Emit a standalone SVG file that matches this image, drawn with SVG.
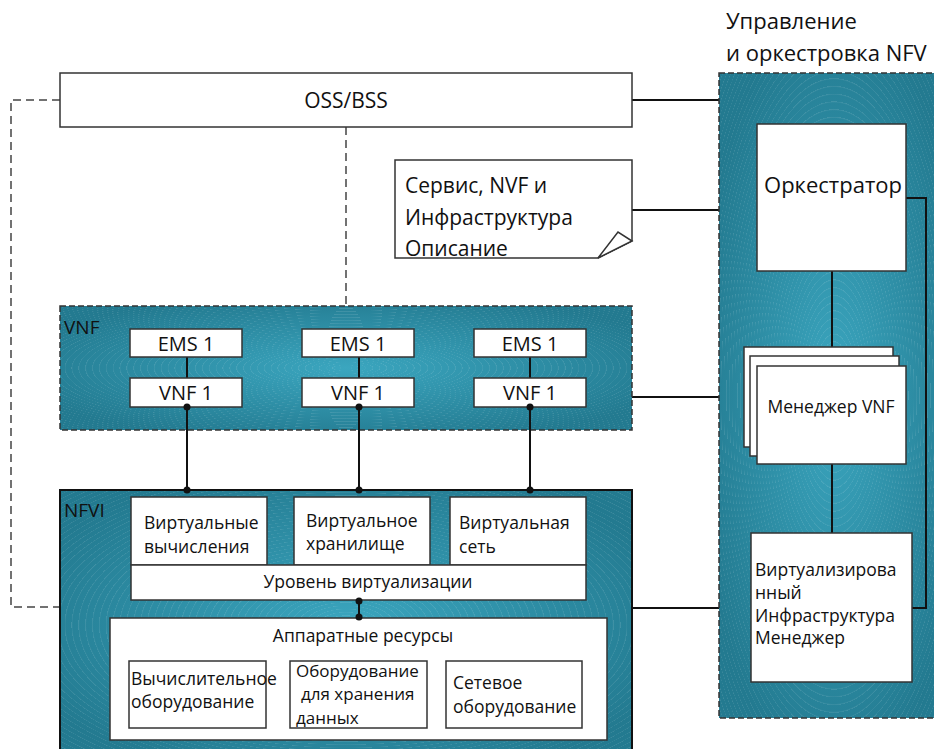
<svg xmlns="http://www.w3.org/2000/svg" width="934" height="749" viewBox="0 0 934 749">
<defs>
<radialGradient id="teal" cx="0.5" cy="0.5" r="0.6">
<stop offset="0" stop-color="#3ba6bf"/>
<stop offset="1" stop-color="#237a90"/>
</radialGradient>
<radialGradient id="rings" cx="0.5" cy="0.5" r="0.012" spreadMethod="repeat">
<stop offset="0" stop-color="#ffffff" stop-opacity="0"/>
<stop offset="0.8" stop-color="#ffffff" stop-opacity="0"/>
<stop offset="1" stop-color="#ffffff" stop-opacity="0.12"/>
</radialGradient>
<style>
.t{font-family:"Open Sans","Noto Sans","DejaVu Sans",sans-serif;fill:#111}
.box{fill:#fff;stroke:#333;stroke-width:1.5}
.ln{stroke:#111;stroke-width:2;fill:none}
.dash{stroke:#444;stroke-width:1.5;stroke-dasharray:8 5;fill:none}
.dot{fill:#111}
</style>
</defs>

<g id="connectors">
<path class="dash" d="M60,100 H11 V607 H60"/>
<path class="dash" d="M346,127 V306" stroke="#222"/>
<path class="ln" d="M632,100 H719"/>
<path class="ln" d="M632,210 H719"/>
<path class="ln" d="M632,397 H744"/>
<path class="ln" d="M632,608 H751"/>
</g>

<g id="mano">
<text class="t" x="726" y="29" font-size="22">Управление</text>
<text class="t" x="726" y="61" font-size="22">и оркестровка NFV</text>
<rect x="719" y="73" width="230" height="645" fill="url(#teal)"/>
<rect x="719" y="73" width="230" height="645" fill="url(#rings)"/>
<rect x="719" y="73" width="230" height="645" fill="none" stroke="#333" stroke-width="1.5" stroke-dasharray="6 3"/>
<path class="ln" d="M832,271 V366"/>
<path class="ln" d="M906,198 H926 V608 H911"/>
<path class="ln" d="M832,464 V533"/>
</g>

<g id="oss">
<rect class="box" x="60" y="73" width="572" height="54"/>
<text class="t" x="346" y="108" font-size="21" text-anchor="middle">OSS/BSS</text>
</g>

<g id="descriptor">
<path class="box" d="M395,160 H632 V241 L598,258 H395 Z"/>
<path d="M598,258 L618,232 L632,241 Z" fill="#fff" stroke="#333" stroke-width="1.5"/>
<text class="t" x="405" y="193" font-size="21">Сервис, NVF и</text>
<text class="t" x="405" y="225" font-size="21">Инфраструктура</text>
<text class="t" x="405" y="256" font-size="21">Описание</text>
</g>

<g id="orchestrator">
<rect class="box" x="757" y="124" width="149" height="147"/>
<text class="t" x="833" y="193" font-size="22" text-anchor="middle">Оркестратор</text>
</g>

<g id="vnfm">
<rect class="box" x="744" y="347" width="149" height="100"/>
<rect class="box" x="750" y="356" width="149" height="100"/>
<rect class="box" x="757" y="366" width="149" height="98"/>
<text class="t" x="831" y="413" font-size="17.5" text-anchor="middle">Менеджер VNF</text>
</g>

<g id="vim">
<rect class="box" x="751" y="533" width="161" height="149"/>
<text class="t" x="755" y="576" font-size="17.5">Виртуализирова</text>
<text class="t" x="755" y="599" font-size="17.5">нный</text>
<text class="t" x="755" y="622" font-size="17.5">Инфраструктура</text>
<text class="t" x="755" y="644" font-size="17.5">Менеджер</text>
</g>

<g id="vnf">
<rect x="60" y="306" width="572" height="124" fill="url(#teal)"/>
<rect x="60" y="306" width="572" height="124" fill="url(#rings)"/>
<rect x="60" y="306" width="572" height="124" fill="none" stroke="#333" stroke-width="1.5" stroke-dasharray="6 3"/>
<text class="t" x="64" y="334" font-size="19">VNF</text>
<path class="ln" d="M187,357 V378 M359,357 V378 M530,357 V378" stroke-width="1.5"/>
<rect class="box" x="130" y="329" width="112" height="28"/>
<rect class="box" x="302" y="329" width="112" height="28"/>
<rect class="box" x="474" y="329" width="112" height="28"/>
<rect class="box" x="130" y="378" width="112" height="29"/>
<rect class="box" x="302" y="378" width="112" height="29"/>
<rect class="box" x="474" y="378" width="112" height="29"/>
<text class="t" x="186" y="351" font-size="20" text-anchor="middle">EMS 1</text>
<text class="t" x="358" y="351" font-size="20" text-anchor="middle">EMS 1</text>
<text class="t" x="530" y="351" font-size="20" text-anchor="middle">EMS 1</text>
<text class="t" x="186" y="400" font-size="20" text-anchor="middle">VNF 1</text>
<text class="t" x="358" y="400" font-size="20" text-anchor="middle">VNF 1</text>
<text class="t" x="530" y="400" font-size="20" text-anchor="middle">VNF 1</text>
</g>

<g id="nfvi">
<rect x="60" y="490" width="572" height="270" fill="url(#teal)"/>
<rect x="60" y="490" width="572" height="270" fill="url(#rings)"/>
<rect x="60" y="490" width="572" height="270" fill="none" stroke="#111" stroke-width="2"/>
<text class="t" x="64" y="517" font-size="19">NFVI</text>
<rect class="box" x="131" y="497" width="136" height="68"/>
<rect class="box" x="294" y="497" width="136" height="68"/>
<rect class="box" x="450" y="497" width="136" height="68"/>
<text class="t" x="144" y="529" font-size="17.5">Виртуальные</text>
<text class="t" x="144" y="553" font-size="17.5">вычисления</text>
<text class="t" x="306" y="527" font-size="17.5">Виртуальное</text>
<text class="t" x="306" y="550" font-size="17.5">хранилище</text>
<text class="t" x="459" y="529" font-size="17.5">Виртуальная</text>
<text class="t" x="459" y="553" font-size="17.5">сеть</text>
<rect class="box" x="131" y="565" width="455" height="35"/>
<text class="t" x="368" y="588" font-size="17.5" text-anchor="middle">Уровень виртуализации</text>
<rect class="box" x="110" y="618" width="497" height="122"/>
<text class="t" x="363" y="642" font-size="17.5" text-anchor="middle">Аппаратные ресурсы</text>
<rect class="box" x="129" y="661" width="137" height="67"/>
<rect class="box" x="290" y="661" width="137" height="67"/>
<rect class="box" x="446" y="661" width="136" height="67"/>
<text class="t" x="131" y="685" font-size="17.5">Вычислительное</text>
<text class="t" x="131" y="708" font-size="17.5">оборудование</text>
<text class="t" x="296" y="677" font-size="17">Оборудование</text>
<text class="t" x="301" y="700" font-size="17">для хранения</text>
<text class="t" x="296" y="724" font-size="17">данных</text>
<text class="t" x="453" y="689" font-size="17.5">Сетевое</text>
<text class="t" x="453" y="713" font-size="17.5">оборудование</text>
</g>

<g id="links">
<path class="ln" d="M187,407 V490 M359,407 V490 M530,407 V490" stroke-width="1.5"/>
<path class="ln" d="M359,600 V618" stroke-width="2"/>
<circle class="dot" cx="187" cy="407" r="3.5"/>
<circle class="dot" cx="359" cy="407" r="3.5"/>
<circle class="dot" cx="530" cy="407" r="3.5"/>
<circle class="dot" cx="187" cy="490" r="3.5"/>
<circle class="dot" cx="359" cy="490" r="3.5"/>
<circle class="dot" cx="530" cy="490" r="3.5"/>
<circle class="dot" cx="359" cy="601" r="3.5"/>
<circle class="dot" cx="359" cy="617" r="3.5"/>
</g>
</svg>
